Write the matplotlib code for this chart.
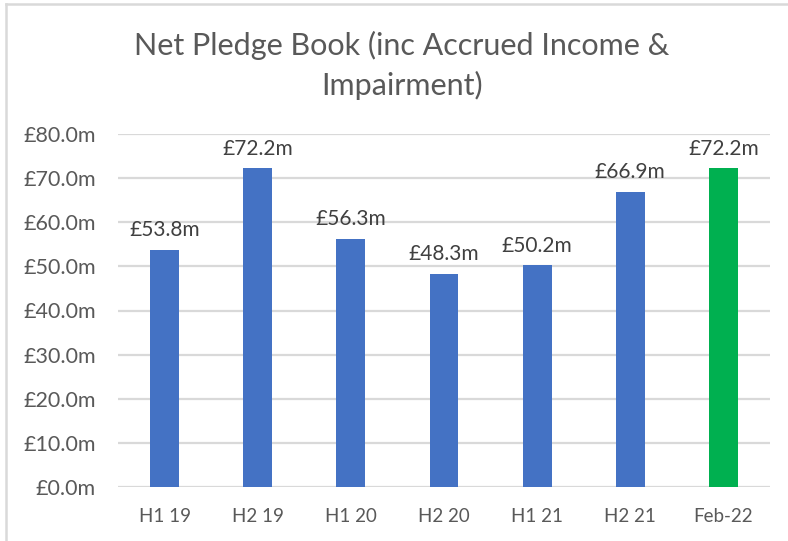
import matplotlib.pyplot as plt
from matplotlib.lines import Line2D

plt.rcParams['font.family'] = ['Lato', 'DejaVu Sans']

# data
periods = ['H1 19', 'H2 19', 'H1 20', 'H2 20', 'H1 21', 'H2 21', 'Feb-22']
book_m = [53.8, 72.2, 56.3, 48.3, 50.2, 66.9, 72.2]
bar_colors = ['#4472C4'] * 6 + ['#00B050']

c_grid = '#D9D9D9'
c_text = '#595959'
c_label = '#404040'

fig = plt.figure(figsize=(7.88, 5.41), dpi=100)
ax = fig.add_axes([118/788, 1 - 487/541, (770 - 118)/788, (487 - 134)/541])

x = range(len(periods))
bars = ax.bar(x, book_m, width=0.31, color=bar_colors, zorder=3)

for xi, v in zip(x, book_m):
    ax.annotate(f'£{v:.1f}m', (xi, v), xytext=(0, 7), textcoords='offset points',
                ha='center', va='bottom', fontsize=15, color=c_label)

ax.set_xlim(-0.5, len(periods) - 0.5)
ax.set_ylim(0, 80)
ax.set_yticks(range(0, 81, 10))
ax.set_yticklabels([f'£{t:.1f}m' for t in range(0, 81, 10)])
ax.set_xticks(list(x))
ax.set_xticklabels(periods)
ax.tick_params(axis='both', length=0, labelcolor=c_text)
ax.tick_params(axis='y', pad=16, labelsize=15.5)
ax.tick_params(axis='x', pad=15, labelsize=13.5)

ax.grid(axis='y', color=c_grid, linewidth=1.6, zorder=0)
for s in ax.spines.values():
    s.set_visible(False)

fig.text(402/788, 1 - 45/541, 'Net Pledge Book (inc Accrued Income &',
         ha='center', va='center', fontsize=22, color=c_text)
fig.text(402/788, 1 - 85/541, 'Impairment)',
         ha='center', va='center', fontsize=22, color=c_text)

# chart border (top and left edges visible)
fig.add_artist(Line2D([6/788, 1], [1 - 4/541, 1 - 4/541], color=c_grid, lw=1.8,
                      transform=fig.transFigure))
fig.add_artist(Line2D([6/788, 6/788], [0, 1 - 4/541], color=c_grid, lw=1.8,
                      transform=fig.transFigure))

fig.savefig('out.png', dpi=100, facecolor='white')
